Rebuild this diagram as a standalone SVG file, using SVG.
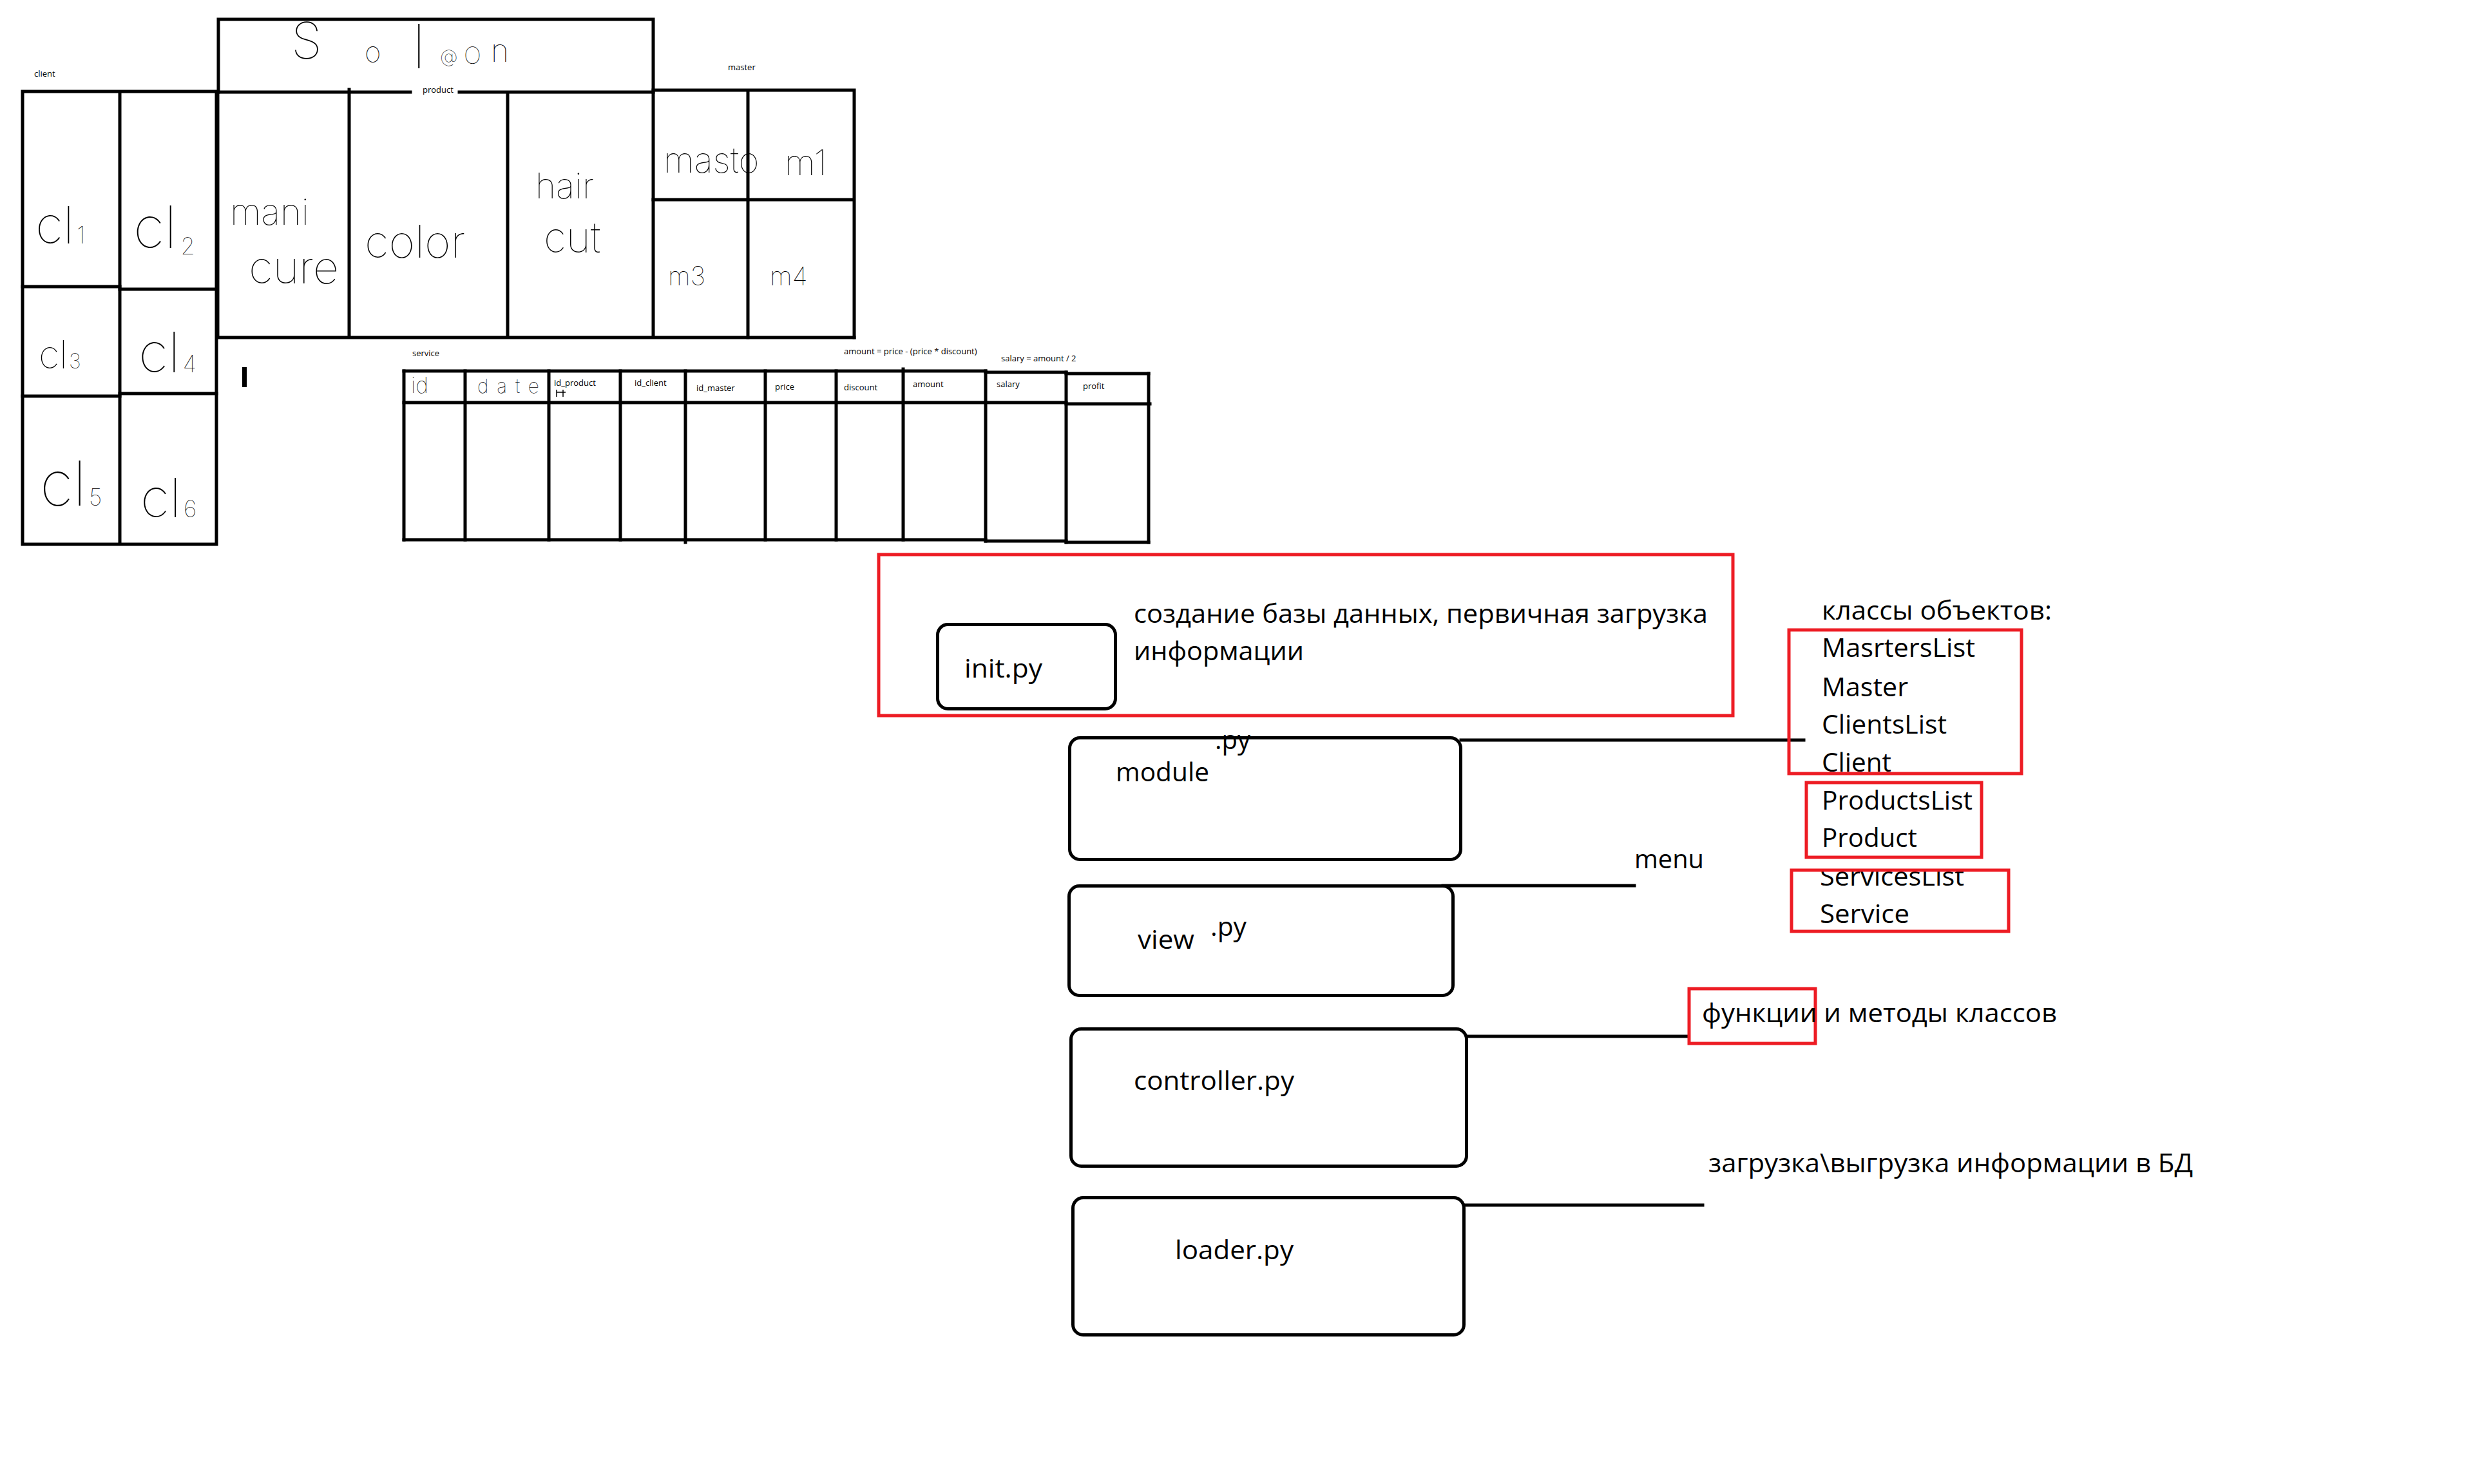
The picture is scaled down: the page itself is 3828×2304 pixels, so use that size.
<svg xmlns="http://www.w3.org/2000/svg" width="3828" height="2304" viewBox="0 0 3828 2304">
  <style>
    .ln { fill: none; stroke: #000; stroke-width: 5; stroke-linecap: square; }
    .box { fill: none; stroke: #000; stroke-width: 5; }
    .red { fill: none; stroke: #ed1c24; stroke-width: 5; }
    .t { font-family: "Open Sans", "Noto Sans", sans-serif; font-size: 41px; fill: #000; }
    .s { font-family: "Open Sans", "Noto Sans", sans-serif; font-size: 13px; fill: #000; }
    .hw { font-family: Inter, "Open Sans", sans-serif; font-weight: 100; fill: #000; }
  </style>
  <defs>
    <clipPath id="clip-services">
      <rect x="2700" y="1349" width="500" height="120"/>
    </clipPath>
  </defs>
  <rect width="3828" height="2304" fill="#fff"/>

  <!-- Salon heading box -->
  <g id="salon">
    <path class="ln" d="M339 143 V30 H1014 V143"/>
    <text class="hw">
      <tspan x="452" y="91" font-size="78">S</tspan>
      <tspan x="566" y="96" font-size="44">o</tspan>
      <tspan x="640" y="106" font-size="95">l</tspan>
      <tspan x="683" y="97" font-size="28">@</tspan>
      <tspan x="720" y="99" font-size="36">O</tspan>
      <tspan x="762" y="96" font-size="48">n</tspan>
    </text>
  </g>

  <!-- client table -->
  <g id="client-table">
    <text class="s" x="53" y="119">client</text>
    <path class="ln" d="M35 142 H336 M35 142 V845 H336 V142 M186 142 V845"/>
    <path class="ln" d="M35 445 H186 M186 449 H336 M35 615 H186 M186 611 H336"/>
    <text class="hw" x="55" y="378" font-size="80">cl<tspan font-size="36" dx="4">1</tspan></text>
    <text class="hw" x="207" y="385" font-size="90">cl<tspan font-size="36" dx="6" dy="10">2</tspan></text>
    <text class="hw" x="60" y="572" font-size="60">cl<tspan font-size="32" dx="2">3</tspan></text>
    <text class="hw" x="215" y="578" font-size="86">cl<tspan font-size="36" dx="4">4</tspan></text>
    <text class="hw" x="62" y="785" font-size="96">cl<tspan font-size="36" dx="4">5</tspan></text>
    <text class="hw" x="218" y="803" font-size="84">cl<tspan font-size="36" dx="4">6</tspan></text>
  </g>

  <!-- product table -->
  <g id="product-table">
    <path class="ln" d="M339 143 H637 M713 143 H1014 M338 143 V524 H1326 M542 139 V524 M788 143 V524 M1014 143 V524"/>
    <text class="s" x="656" y="144">product</text>
    <text class="hw" x="357" y="349" font-size="56">mani</text>
    <text class="hw" x="386" y="440" font-size="70">cure</text>
    <text class="hw" x="566" y="400" font-size="70">color</text>
    <text class="hw" x="831" y="308" font-size="55">hair</text>
    <text class="hw" x="844" y="392" font-size="65">cut</text>
  </g>

  <!-- master table -->
  <g id="master-table">
    <text class="s" x="1130" y="109">master</text>
    <path class="ln" d="M1014 140 H1326 V524 M1161 140 V524 M1014 310 H1326"/>
    <text class="hw" x="1030" y="268" font-size="55">masto</text>
    <text class="hw" x="1218" y="272" font-size="55">m1</text>
    <text class="hw" x="1037" y="443" font-size="40">m3</text>
    <text class="hw" x="1195" y="443" font-size="40">m4</text>
  </g>

  <rect x="376" y="570" width="7" height="31" fill="#000"/>

  <!-- service table -->
  <g id="service-table">
    <text class="s" x="640" y="553">service</text>
    <text class="s" x="1310" y="550">amount = price - (price * discount)</text>
    <text class="s" x="1554" y="561">salary = amount / 2</text>
    <path class="ln" d="M627 576 H1530 M1530 578 H1655 M1655 580 H1783"/>
    <path class="ln" d="M627 625 H1655 M1655 627 H1785"/>
    <path class="ln" d="M627 838 H1530 M1530 840 H1655 M1655 842 H1783"/>
    <path class="ln" d="M627 576 V838 M722 576 V838 M852 576 V838 M963 576 V838 M1064 576 V842 M1188 576 V838 M1298 576 V838 M1402 573 V838 M1530 576 V840 M1655 578 V842 M1783 580 V842"/>
    <text class="hw" x="638" y="610" font-size="34">id</text>
    <text class="hw" x="741" y="610" font-size="30" textLength="96">date</text>
    <path d="M864 605 V616 M864 609 H878 M874 605 V616" stroke="#000" stroke-width="1.5" fill="none"/>
    <text class="s" x="860" y="599">id_product</text>
    <text class="s" x="985" y="599">id_client</text>
    <text class="s" x="1081" y="607">id_master</text>
    <text class="s" x="1203" y="605">price</text>
    <text class="s" x="1310" y="606">discount</text>
    <text class="s" x="1417" y="601">amount</text>
    <text class="s" x="1547" y="601">salary</text>
    <text class="s" x="1681" y="604">profit</text>
  </g>

  <!-- links from modules to their notes -->
  <g id="connectors">
    <path class="ln" d="M2268 1149 H2800"/>
    <path class="ln" d="M2240 1375 H2537"/>
    <path class="ln" d="M2277 1609 H2621"/>
    <path class="ln" d="M2273 1871 H2643"/>
  </g>

  <g id="init">
    <rect class="red" x="1364" y="861" width="1326" height="250"/>
    <rect class="box" x="1455.5" y="969.5" width="276" height="131" rx="16"/>
    <text class="t" x="1497" y="1052" textLength="121" lengthAdjust="spacingAndGlyphs">init.py</text>
    <text class="t" x="1760" y="967" textLength="891" lengthAdjust="spacingAndGlyphs">создание базы данных, первичная загрузка</text>
    <text class="t" x="1760" y="1025" textLength="264" lengthAdjust="spacingAndGlyphs">информации</text>
  </g>

  <g id="module">
    <text class="t" x="1886" y="1163" textLength="55" lengthAdjust="spacingAndGlyphs">.py</text>
    <rect class="box" x="1660.5" y="1145.5" width="607" height="189" rx="16"/>
    <text class="t" x="1732" y="1213" textLength="145" lengthAdjust="spacingAndGlyphs">module</text>
  </g>

  <g id="classes-note">
    <text class="t" x="2828" y="962" textLength="357" lengthAdjust="spacingAndGlyphs">классы объектов:</text>
    <text class="t" x="2828" y="1020" textLength="238" lengthAdjust="spacingAndGlyphs">MasrtersList</text>
    <text class="t" x="2828" y="1081" textLength="134" lengthAdjust="spacingAndGlyphs">Master</text>
    <text class="t" x="2828" y="1139" textLength="194" lengthAdjust="spacingAndGlyphs">ClientsList</text>
    <text class="t" x="2828" y="1198" textLength="108" lengthAdjust="spacingAndGlyphs">Client</text>
    <text class="t" x="2828" y="1257" textLength="234" lengthAdjust="spacingAndGlyphs">ProductsList</text>
    <text class="t" x="2828" y="1315" textLength="148" lengthAdjust="spacingAndGlyphs">Product</text>
    <text class="t" x="2825" y="1375" textLength="224" lengthAdjust="spacingAndGlyphs" clip-path="url(#clip-services)">ServicesList</text>
    <text class="t" x="2825" y="1433" textLength="139" lengthAdjust="spacingAndGlyphs">Service</text>
    <rect class="red" x="2777" y="978" width="361" height="223"/>
    <rect class="red" x="2804" y="1215" width="272" height="116"/>
    <rect class="red" x="2781" y="1351" width="337" height="95"/>
  </g>

  <g id="view">
    <rect class="box" x="1659.5" y="1375.5" width="596" height="170" rx="16"/>
    <text class="t" x="1766" y="1473" textLength="88" lengthAdjust="spacingAndGlyphs">view</text>
    <text class="t" x="1879" y="1453" textLength="56" lengthAdjust="spacingAndGlyphs">.py</text>
    <text class="t" x="2537" y="1348" textLength="108" lengthAdjust="spacingAndGlyphs">menu</text>
  </g>

  <g id="controller">
    <rect class="box" x="1662.5" y="1597.5" width="614" height="213" rx="16"/>
    <text class="t" x="1760" y="1692" textLength="249" lengthAdjust="spacingAndGlyphs">controller.py</text>
    <rect class="red" x="2622" y="1535" width="196" height="85"/>
    <text class="t" x="2642" y="1587" textLength="551" lengthAdjust="spacingAndGlyphs">функции и методы классов</text>
  </g>

  <g id="loader">
    <rect class="box" x="1665.5" y="1859.5" width="607" height="213" rx="16"/>
    <text class="t" x="1824" y="1955" textLength="184" lengthAdjust="spacingAndGlyphs">loader.py</text>
    <text class="t" x="2652" y="1820" textLength="752" lengthAdjust="spacingAndGlyphs">загрузка\выгрузка информации в БД</text>
  </g>
</svg>
